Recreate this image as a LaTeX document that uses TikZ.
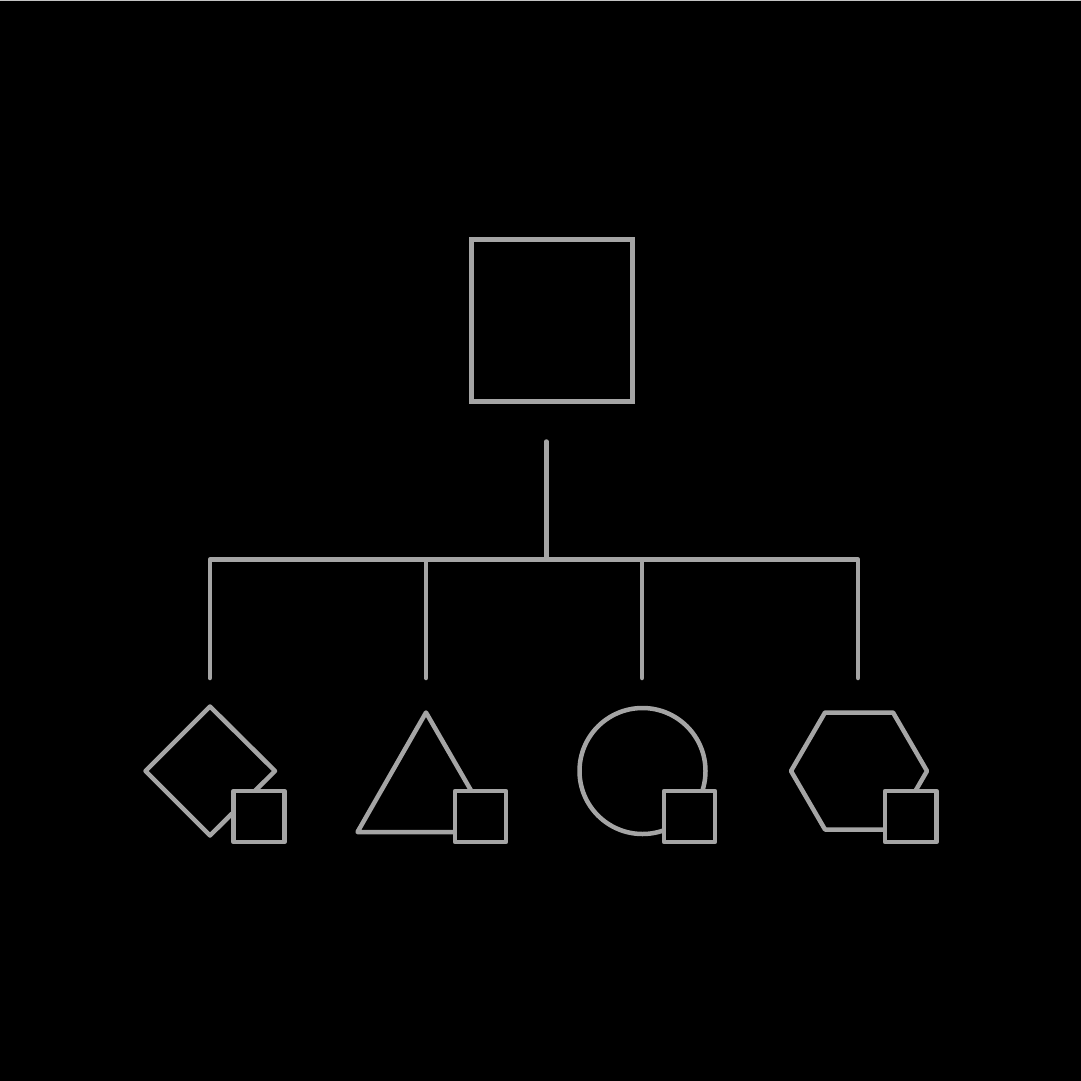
\documentclass[tikz,border=0pt]{standalone}
\usetikzlibrary{positioning}
\definecolor{shapegray}{RGB}{165,165,165}
\definecolor{edgegray}{RGB}{195,195,195}
\tikzset{
  outline/.style={draw=shapegray, line width=4.5pt, line join=round, line cap=round},
  wire/.style={draw=shapegray, line width=4.5pt, line cap=round},
  badge/.style={draw=shapegray, fill=black, line width=4.5pt, line join=round}
}
\begin{document}
\begin{tikzpicture}[x=1pt,y=-1pt]
\fill[black] (0,0) rectangle (1081,1081);
\useasboundingbox (0,0) rectangle (1081,1081);
\draw[edgegray, line width=1.2pt] (0,0.6) -- (1081,0.6);
% top square
\node[outline, line join=miter, rectangle, minimum width=161pt, minimum height=162pt, inner sep=0pt] (root) at (552,320.5) {};
% connector points
\coordinate (stemtop) at (546.3,441.5);
\coordinate (hub) at (546.3,559.6);
\coordinate (b1) at (209.8,559.6);
\coordinate (b2) at (426,559.6);
\coordinate (b3) at (642,559.6);
\coordinate (b4) at (858,559.6);
\coordinate (e1) at (209.8,678);
\coordinate (e2) at (426,678);
\coordinate (e3) at (642,678);
\coordinate (e4) at (858,678);
\draw[wire] (stemtop) -- (hub);
\draw[wire, line join=round] (e1) -- (b1) -- (b4) -- (e4);
\draw[wire] (b2) -- (e2);
\draw[wire] (b3) -- (e3);
% diamond
\draw[outline] (210,706.5) -- (275,771) -- (210,835.5) -- (145.5,771) -- cycle;
\draw[badge] (233.5,791) rectangle (284.5,842);
% triangle
\draw[outline] (426,712.5) -- (495,832) -- (357.5,832) -- cycle;
\draw[badge] (455,791) rectangle (506,842);
% circle
\draw[outline] (642.5,771) circle[radius=63];
\draw[badge] (664,791) rectangle (715,842);
% hexagon
\draw[outline] (791,771) -- (825,712.5) -- (893,712.5) -- (927,771) -- (893,829.5) -- (825,829.5) -- cycle;
\draw[badge] (885,791) rectangle (936.5,842);
\end{tikzpicture}
\end{document}
